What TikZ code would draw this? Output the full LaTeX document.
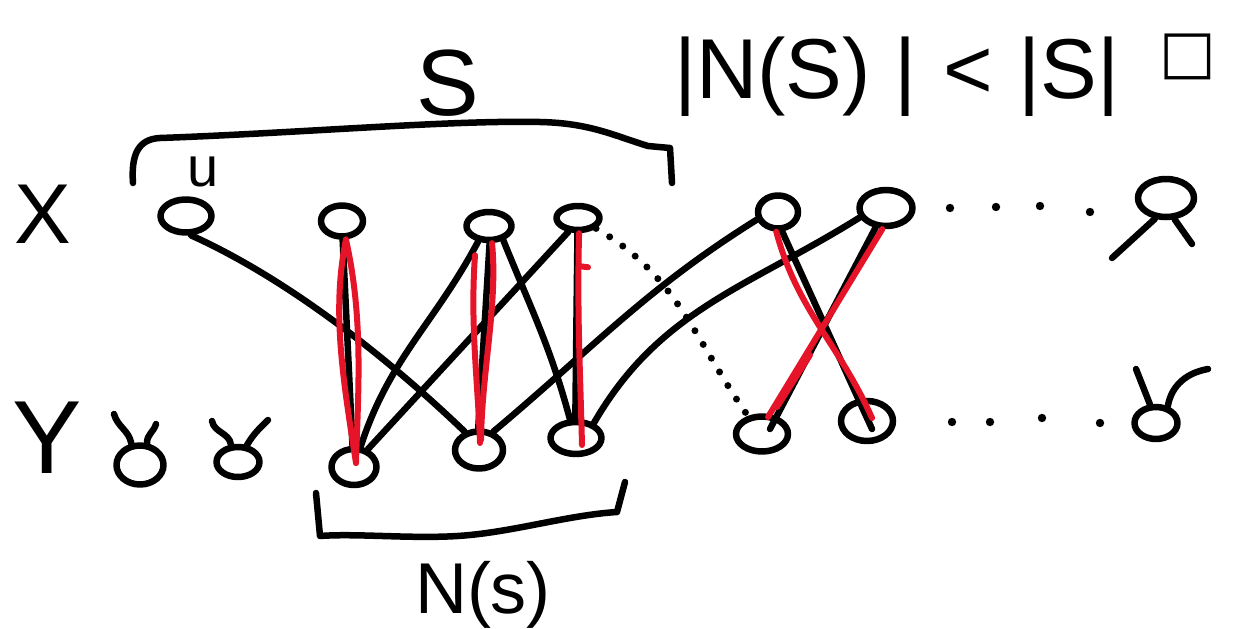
\documentclass[tikz,border=0pt]{standalone}
\usepackage{fontspec}
\setmainfont{Liberation Sans}
\newfontfamily\symfont{DejaVu Sans}
\usetikzlibrary{shapes.geometric,calc}
\definecolor{marker}{RGB}{230,20,40}

\begin{document}
\begin{tikzpicture}[x=1pt,y=-1pt,
  ink/.style={line width=6.5pt, line cap=round, line join=round},
  vtx/.style={ellipse, draw, ink, inner sep=0pt},
  match/.style={line width=6pt, line cap=round, line join=round, draw=marker},
  dotline/.style={line width=7pt, line cap=round, dash pattern=on 0pt off 16pt},
  lbl/.style={inner sep=0pt, anchor=base}
]
\useasboundingbox (0,0) rectangle (1243,629);

% ---- vertex set X (top row)
\node[vtx, minimum width=51pt, minimum height=33pt] (u)  at (186,216) {};
\node[vtx, minimum width=42pt, minimum height=31pt] (x2) at (342,221) {};
\node[vtx, minimum width=45pt, minimum height=28pt] (x3) at (489,226) {};
\node[vtx, minimum width=43pt, minimum height=24pt] (x4) at (578,218) {};
\node[vtx, minimum width=40pt, minimum height=33pt] (x5) at (778,212) {};
\node[vtx, minimum width=53pt, minimum height=36pt] (x6) at (886,208) {};
\node[vtx, minimum width=56pt, minimum height=38pt] (x7) at (1166,198) {};

% ---- vertex set Y (bottom row)
\node[vtx, minimum width=47pt, minimum height=39pt] (y1) at (140,465) {};
\node[vtx, minimum width=43pt, minimum height=30pt] (y2) at (238,462) {};
\node[vtx, minimum width=45pt, minimum height=36pt] (y3) at (354,467) {};
\node[vtx, minimum width=48pt, minimum height=37pt] (y4) at (479,450) {};
\node[vtx, minimum width=51pt, minimum height=32pt] (y5) at (576,438) {};
\node[vtx, minimum width=52pt, minimum height=35pt] (y6) at (762,434) {};
\node[vtx, minimum width=52pt, minimum height=40pt] (y7) at (867,421) {};
\node[vtx, minimum width=43pt, minimum height=32pt] (y8) at (1156,423) {};

% ---- labels
\node[lbl, font=\fontsize{85}{90}\selectfont] (labX) at (43,243) {X};
\node[lbl, font=\fontsize{104}{110}\selectfont] (labY) at (47,473) {Y};
\node[lbl, font=\fontsize{56}{60}\selectfont] (labu) at (203,186) {u};
\node[lbl, font=\fontsize{94}{100}\selectfont] (labS) at (448,115) {S};
\node[lbl, font=\fontsize{72}{76}\selectfont] (labN) at (483,613) {N(s)};
\node[inner sep=0pt, anchor=base west, font=\fontsize{85}{90}\selectfont] (claim) at (674,98)
  {|N(S)\hspace{24pt}|\hspace{26pt}<\hspace{26pt}|S|};
\node[inner sep=0pt, font=\symfont\fontsize{60}{64}\selectfont] (qed) at (1188,57) {□};

% ---- brackets
\draw[ink] (133,183) .. controls (131,155) and (138,139) .. (160,138)
  .. controls (300,133) and (450,120) .. (540,122)
  .. controls (590,123) and (615,136) .. (648,146) -- (670,148) -- (672,183);
\draw[ink] (316,493) -- (320,536)
  .. controls (360,533) and (420,540) .. (470,535)
  .. controls (520,530) and (570,515) .. (617,512) -- (625,482);

% ---- edges
\draw[ink] (u.-75) .. controls (290,280) and (390,360) .. (y4.128);
\draw[ink] (x2.-88) -- (y3.94);
\draw[ink] (x3.-125) to[out=-118,in=72] (y3.72);
\draw[ink] (x3.-88) -- (y4.92);
\draw[ink] (x3.-45) to[out=-68,in=105] (y5.108);
\draw[ink] (x4.-125) -- (y3.52);
\draw[ink] (x4.-92) -- (y5.92);
\draw[ink] (x5.-160) to[out=-148,in=40] (y4.52);
\draw[ink] (x6.-160) to[out=-148,in=60] (y5.40);
\draw[ink] (x6.-118) -- ($(y6.center)+(8,-5)$);
\draw[ink] (x5.-78) -- ($(y7.center)+(5,8)$);
\draw[dotline] (x4.-30) to[out=-30,in=125] (y6.128);

% ---- edge stubs
\coordinate (y1a) at (114,414);
\coordinate (y1b) at (156,424);
\coordinate (y2a) at (212,421);
\coordinate (y2b) at (268,420);
\coordinate (y8a) at (1136,369);
\coordinate (y8b) at (1208,369);
\coordinate (x7a) at (1112,258);
\coordinate (x7b) at (1192,244);
\draw[ink] (y1.112) to[out=100,in=-75] (y1a);
\draw[ink] (y1.72) to[out=95,in=-105] (y1b);
\draw[ink] (y2.112) to[out=98,in=-80] (y2a);
\draw[ink] (y2.62) to[out=60,in=-135] (y2b);
\draw[ink] (y8.108) -- (y8a);
\draw[ink] (y8.55) to[out=80,in=190] (y8b);
\draw[ink] (x7.-118) -- (x7a);
\draw[ink] (x7.-68) -- (x7b);

% ---- ellipsis dots
\foreach \p in {(950,208),(996,207),(1040,206),(1090,212),
                (952,422),(990,422),(1042,418),(1100,423)}
  \fill \p circle (4.2pt);

% ---- matching (red)
\draw[match] (x2.-78) .. controls +(-14,70) and +(-14,-90) .. ($(y3.center)+(2,-4)$);
\draw[match] (x2.-78) .. controls +(18,80) and +(2,-70) .. ($(y3.center)+(2,-4)$);
\draw[match] ($(x3.south)+(-14,12)$) .. controls +(-5,70) and +(-2,-60) .. ($(y4.center)+(1,-7)$);
\draw[match] (x3.-80) .. controls +(6,60) and +(1,-70) .. ($(y4.center)+(2,-10)$);
\draw[match] (x4.-86) .. controls +(-2,80) and +(-2,-80) .. ($(y5.center)+(6,7)$);
\draw[match] ($(x4.south)+(2,33)$) -- +(8,1);
\draw[match] (x5.-95) to[out=-75,in=114] ($(y7.center)+(5,-3)$);
\draw[match] (x6.-100) -- ($(y6.center)+(6,-17)$);
\draw[match] ($(y6.center)+(48,-79)$) -- ($(y6.center)+(15,-27)$);
\end{tikzpicture}
\end{document}
